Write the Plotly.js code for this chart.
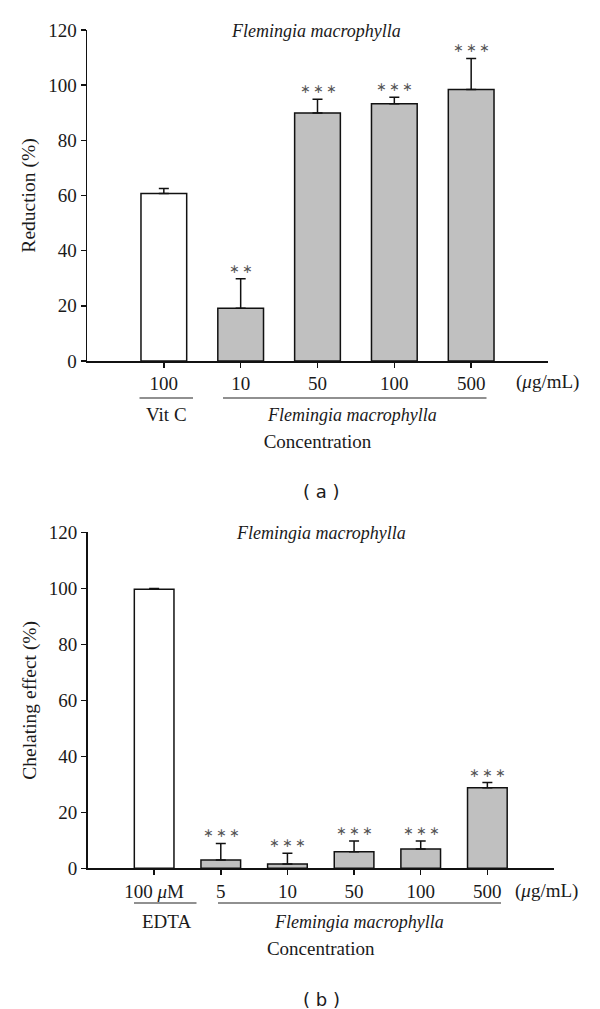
<!DOCTYPE html>
<html>
<head>
<meta charset="utf-8">
<script src="https://cdn.plot.ly/plotly-3.0.1.min.js"></script>
<style>
  html, body { margin: 0; padding: 0; background: #fff; }
  #chart { width: 600px; height: 1009px; }
</style>
</head>
<body>
<div id="chart"></div>
<script>
// ---------- Data: panel (a) ----------
const topLabels = ['100', '10', '50', '100', '500'];
const topValues = [60.7, 19.1, 89.9, 93.3, 98.4];
const topErrors = [1.8, 10.7, 5.0, 2.3, 11.3];
const topStars  = ['', '**', '***', '***', '***'];
const topGroupNames = ['Vit C', '<i>Flemingia macrophylla</i>'];

// ---------- Data: panel (b) ----------
const botLabels = ['100 <i>μ</i>M', '5', '10', '50', '100', '500'];
const botValues = [99.7, 3.0, 1.5, 5.9, 6.9, 28.8];
const botErrors = [0.2, 5.9, 3.9, 3.85, 2.85, 1.8];
const botStars  = ['', '***', '***', '***', '***', '***'];
const botGroupNames = ['EDTA', '<i>Flemingia macrophylla</i>'];

const yTicks = [0, 20, 40, 60, 80, 100, 120];
const unitLabel = '(<i>μ</i>g/mL)';
const panelTitle = '<i>Flemingia macrophylla</i>';
const yTitleTop = 'Reduction (%)';
const yTitleBot = 'Chelating effect (%)';
const xTitle = 'Concentration';
const panelTags = ['( a )', '( b )'];

// ---------- Layout helpers ----------
const W = 600, H = 1009;
const SERIF = 'Liberation Serif, Times New Roman, serif';
const TXT = '#1a1a1a';
const py = v => 1 - v / H;      // pixel row -> paper y
const px = v => v / W;          // pixel col -> paper x
const GRAY = '#c0c0c0';
const FS = 19;

function barTrace(labels, values, errors, xa, ya) {
  const xs = labels.map((_, i) => i + 1);
  return {
    type: 'bar',
    x: xs,
    y: values,
    xaxis: xa, yaxis: ya,
    width: 0.595,
    marker: {
      color: values.map((_, i) => i === 0 ? '#ffffff' : GRAY),
      line: { color: '#111', width: 1.5 }
    },
    error_y: {
      type: 'data', symmetric: false,
      array: errors,
      arrayminus: errors.map(() => 0),
      color: '#111', thickness: 1.5, width: 5
    },
    hoverinfo: 'skip',
    showlegend: false
  };
}

function starAnns(values, errors, stars, xref, yref) {
  return stars.map((s, i) => ({
    xref, yref, x: i + 1, y: values[i] + errors[i],
    xanchor: 'center',
    text: s.split('').join('\u2009').replace(/\*/g, '∗'),
    showarrow: false, yanchor: 'bottom', yshift: 1,
    font: { family: 'DejaVu Sans, sans-serif', size: 12.5, color: '#555555' }
  })).filter(a => a.text !== '');
}

const data = [
  barTrace(topLabels, topValues, topErrors, 'x', 'y'),
  barTrace(botLabels, botValues, botErrors, 'x2', 'y2')
];

function xAxis(labels, range, domain, anchor) {
  return {
    domain, anchor, range,
    tickmode: 'array',
    tickvals: labels.map((_, i) => i + 1),
    ticktext: labels,
    ticks: 'outside', ticklen: 5, tickwidth: 1.5, tickcolor: '#111',
    showline: true, linecolor: '#111', linewidth: 1.5,
    showgrid: false, zeroline: false, fixedrange: true,
    tickfont: { family: SERIF, size: FS, color: TXT },
    title: { text: xTitle, font: { family: SERIF, size: 19, color: TXT }, standoff: 41 }
  };
}
function yAxis(domain, anchor, title) {
  return {
    domain, anchor, range: [0, 120],
    tickmode: 'array', tickvals: yTicks,
    ticks: 'outside', ticklen: 5, tickwidth: 1.5, tickcolor: '#111',
    showline: true, linecolor: '#111', linewidth: 1.5,
    showgrid: false, zeroline: false, fixedrange: true,
    tickfont: { family: SERIF, size: FS, color: TXT },
    title: { text: title, font: { family: SERIF, size: 19.5, color: TXT }, standoff: 7 }
  };
}

function txt(x, y, text, size, family) {
  return { xref: 'paper', yref: 'paper', x: px(x), y: py(y), xanchor: 'center', yanchor: 'middle',
    text, showarrow: false, font: { family: family || SERIF, size: size || FS, color: TXT } };
}

const annotations = [
  txt(315.5, 31, panelTitle, 18),
  txt(321, 533, panelTitle, 18),
  txt(547, 381.5, unitLabel),
  txt(546, 890.5, unitLabel),
  txt(166, 414.5, topGroupNames[0]),
  txt(352, 414.5, topGroupNames[1], 18),
  txt(166, 921.5, botGroupNames[0]),
  txt(359, 921.5, botGroupNames[1], 18),
  txt(321, 491, panelTags[0], 18, 'DejaVu Sans, sans-serif'),
  txt(321, 999.5, panelTags[1], 18, 'DejaVu Sans, sans-serif'),
  ...starAnns(topValues, topErrors, topStars, 'x', 'y'),
  ...starAnns(botValues, botErrors, botStars, 'x2', 'y2')
];

const lineStyle = { color: '#222', width: 1.2 };
const shapes = [
  { type: 'line', xref: 'paper', yref: 'paper', x0: px(139.5), x1: px(193), y0: py(398), y1: py(398), line: lineStyle },
  { type: 'line', xref: 'paper', yref: 'paper', x0: px(223), x1: px(486.5), y0: py(398), y1: py(398), line: lineStyle },
  { type: 'line', xref: 'paper', yref: 'paper', x0: px(134), x1: px(196.5), y0: py(903), y1: py(903), line: lineStyle },
  { type: 'line', xref: 'paper', yref: 'paper', x0: px(218), x1: px(501), y0: py(903), y1: py(903), line: lineStyle }
];

const layout = {
  width: W, height: H,
  margin: { l: 0, r: 0, t: 0, b: 0 },
  paper_bgcolor: '#fff', plot_bgcolor: '#fff',
  showlegend: false,
  bargap: 0,
  xaxis:  xAxis(topLabels, [0, 6], [px(87), px(548)], 'y'),
  yaxis:  yAxis([py(361), py(30)], 'x', yTitleTop),
  xaxis2: xAxis(botLabels, [0, 7], [px(87.5), px(554)], 'y2'),
  yaxis2: yAxis([py(868.3), py(532.3)], 'x2', yTitleBot),
  annotations, shapes
};

Plotly.newPlot('chart', data, layout, { staticPlot: true, displayModeBar: false });
</script>
</body>
</html>
